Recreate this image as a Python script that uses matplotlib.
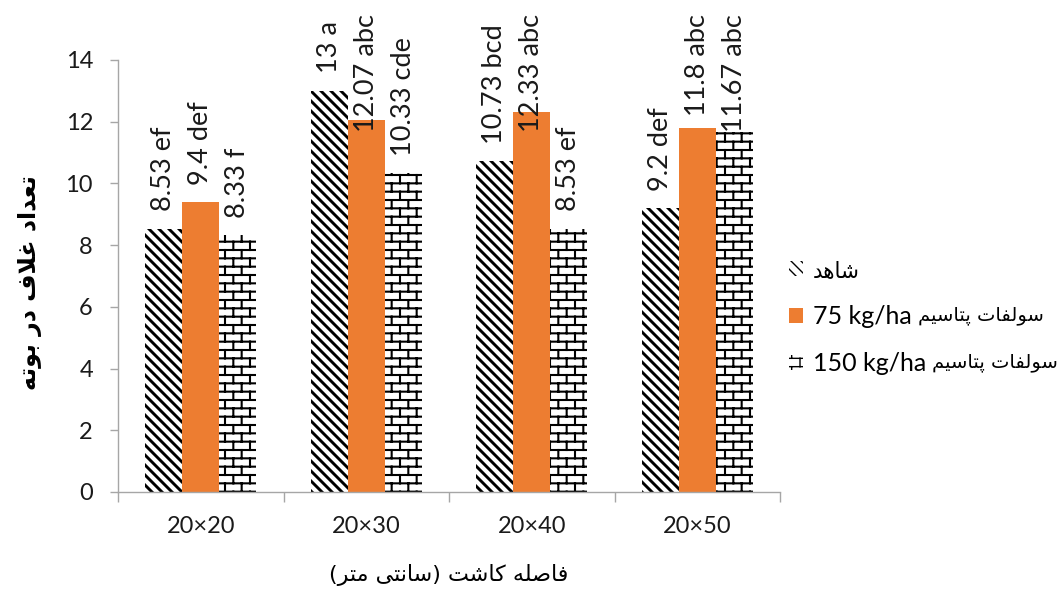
import warnings
import numpy as np
import matplotlib
matplotlib.use("Agg")
import matplotlib.pyplot as plt
from matplotlib import hatch as mhatch
from matplotlib.path import Path
from matplotlib.ticker import FixedLocator, NullFormatter

warnings.filterwarnings("ignore")

# ── Data ─────────────────────────────────────────────────────────────────────
categories = ["20×20", "20×30", "20×40", "20×50"]
control    = [8.53, 13.0, 10.73, 9.2]
k75        = [9.4, 12.07, 12.33, 11.8]
k150       = [8.33, 10.33, 8.53, 11.67]
lab_control = ["8.53 ef", "13 a", "10.73 bcd", "9.2 def"]
lab_k75     = ["9.4 def", "12.07 abc", "12.33 abc", "11.8 abc"]
lab_k150    = ["8.33 f", "10.33 cde", "8.53 ef", "11.67 abc"]
yticks = [0, 2, 4, 6, 8, 10, 12, 14]

series_names = ["شاهد", "سولفات پتاسیم", "سولفات پتاسیم"]
series_rates = ["", "75 kg/ha", "150 kg/ha"]
ylabel_fa = "تعداد غلاف در بوته"
xlabel_fa = "فاصله کاشت (سانتی متر)"

ORANGE = "#ED7D31"

# ── Minimal Persian shaping (presentation forms, visual order) ──────────────
FORMS = {  # isolated, final, initial, medial
    'ا': ('\uFE8D', '\uFE8E', None, None),
    'ب': ('\uFE8F', '\uFE90', '\uFE91', '\uFE92'),
    'پ': ('\uFB56', '\uFB57', '\uFB58', '\uFB59'),
    'ت': ('\uFE95', '\uFE96', '\uFE97', '\uFE98'),
    'د': ('\uFEA9', '\uFEAA', None, None),
    'ر': ('\uFEAD', '\uFEAE', None, None),
    'س': ('\uFEB1', '\uFEB2', '\uFEB3', '\uFEB4'),
    'ش': ('\uFEB5', '\uFEB6', '\uFEB7', '\uFEB8'),
    'ص': ('\uFEB9', '\uFEBA', '\uFEBB', '\uFEBC'),
    'ع': ('\uFEC9', '\uFECA', '\uFECB', '\uFECC'),
    'غ': ('\uFECD', '\uFECE', '\uFECF', '\uFED0'),
    'ف': ('\uFED1', '\uFED2', '\uFED3', '\uFED4'),
    'ک': ('\uFB8E', '\uFB8F', '\uFB90', '\uFB91'),
    'ل': ('\uFEDD', '\uFEDE', '\uFEDF', '\uFEE0'),
    'م': ('\uFEE1', '\uFEE2', '\uFEE3', '\uFEE4'),
    'ن': ('\uFEE5', '\uFEE6', '\uFEE7', '\uFEE8'),
    'ه': ('\uFEE9', '\uFEEA', '\uFEEB', '\uFEEC'),
    'و': ('\uFEED', '\uFEEE', None, None),
    'ی': ('\uFBFC', '\uFBFD', '\uFBFE', '\uFBFF'),
}


def dual(c):
    return c in FORMS and FORMS[c][2] is not None


def shape(s):
    s = s.replace('(', '\0').replace(')', '(').replace('\0', ')')
    out, i = [], 0
    while i < len(s):
        c = s[i]
        if c not in FORMS:
            out.append(c)
            i += 1
            continue
        prev_join = i > 0 and dual(s[i - 1])
        if c == 'ل' and i + 1 < len(s) and s[i + 1] == 'ا':
            out.append('\uFEFC' if prev_join else '\uFEFB')
            i += 2
            continue
        next_join = dual(c) and i + 1 < len(s) and s[i + 1] in FORMS
        iso, fin, ini, med = FORMS[c]
        if prev_join and next_join:
            out.append(med)
        elif prev_join:
            out.append(fin)
        elif next_join:
            out.append(ini)
        else:
            out.append(iso)
        i += 1
    return ''.join(reversed(out))


# ── Custom hatches: 'B' = brick, 'D' = wide back-diagonal ────────────────────
class BrickHatch(mhatch.HatchPatternBase):
    rows, cols = 12, 6

    def __init__(self, hatch, density):
        self.on = 'B' in hatch
        n_vert = sum(self.cols + 1 if r % 2 == 0 else self.cols for r in range(self.rows))
        self.num_vertices = ((self.rows + 1) * 2 + n_vert * 2) if self.on else 0

    def set_vertices_and_codes(self, vertices, codes):
        segs = []
        for r in range(self.rows + 1):
            y = r / self.rows
            segs.append(((0.0, y), (1.0, y)))
        for r in range(self.rows):
            y0, y1 = r / self.rows, (r + 1) / self.rows
            if r % 2 == 0:
                xs = [j / self.cols for j in range(self.cols + 1)]
            else:
                xs = [(j + 0.5) / self.cols for j in range(self.cols)]
            for xv in xs:
                segs.append(((xv, y0), (xv, y1)))
        vertices[:] = np.array(segs).reshape(-1, 2)
        codes[0::2] = Path.MOVETO
        codes[1::2] = Path.LINETO


class DiagHatch(mhatch.HatchPatternBase):
    m = 10

    def __init__(self, hatch, density):
        self.on = 'D' in hatch
        self.num_vertices = (2 * self.m + 1) * 2 if self.on else 0

    def set_vertices_and_codes(self, vertices, codes):
        c = np.arange(2 * self.m + 1) / self.m
        vertices[0::2, 0] = c
        vertices[0::2, 1] = 0.0
        vertices[1::2, 0] = c - 1.0
        vertices[1::2, 1] = 1.0
        codes[0::2] = Path.MOVETO
        codes[1::2] = Path.LINETO


mhatch._hatch_types.append(BrickHatch)
mhatch._hatch_types.append(DiagHatch)

# ── Plot ─────────────────────────────────────────────────────────────────────
plt.rcParams['font.family'] = ['Lato', 'DejaVu Sans']
fig = plt.figure(figsize=(10.64, 5.90), dpi=100)
ax = fig.add_axes([118 / 1064, 1 - 492 / 590, 662 / 1064, 432 / 590])

x = np.arange(len(categories))
w = 0.224
styles = [
    dict(values=control, labels=lab_control, off=-w, color='white', hatch='D', hlw=2.1),
    dict(values=k75, labels=lab_k75, off=0, color=ORANGE, hatch=None, hlw=1.0),
    dict(values=k150, labels=lab_k150, off=w, color='white', hatch='B', hlw=1.5),
]

handles = []
ann = []
for st in styles:
    with plt.rc_context({'hatch.linewidth': st['hlw'], 'hatch.color': 'black'}):
        bars = ax.bar(x + st['off'], st['values'], w, color=st['color'],
                      hatch=st['hatch'], linewidth=0, edgecolor='black')
    for b in bars:
        if hasattr(b, 'set_hatch_linewidth'):
            b.set_hatch_linewidth(st['hlw'])
    handles.append(bars)
    for xi, v, lab in zip(x + st['off'], st['values'], st['labels']):
        t = ax.annotate(lab, xy=(xi, v), xytext=(0, 12.5), textcoords='offset points',
                        rotation=90, ha='center', va='bottom', fontsize=19.5,
                        color='#1a1a1a', annotation_clip=False)
        ann.append(t)

ax.set_xlim(-0.5, 3.5)
ax.set_ylim(0, 14)
ax.set_yticks(yticks)
ax.set_xticks(x)
ax.set_xticklabels(categories)
ax.xaxis.set_minor_locator(FixedLocator(np.arange(-0.5, 4, 1.0)))
ax.xaxis.set_minor_formatter(NullFormatter())
ax.tick_params(axis='x', which='major', length=0, pad=17, labelsize=17, labelcolor='#1a1a1a')
ax.tick_params(axis='x', which='minor', length=7, width=1, color='#A6A6A6', direction='out')
ax.tick_params(axis='y', length=6, width=1, color='#A6A6A6', direction='out', pad=12,
               labelsize=17, labelcolor='#1a1a1a')
for s in ['top', 'right']:
    ax.spines[s].set_visible(False)
for s in ['left', 'bottom']:
    ax.spines[s].set_color('#A6A6A6')
    ax.spines[s].set_linewidth(1)

fig.text(30 / 1064, 1 - 283 / 590, shape(ylabel_fa), rotation=90, ha='center', va='center',
         fontsize=17, fontweight='bold', family=['DejaVu Sans'])
fig.text(449 / 1064, 1 - 575 / 590, shape(xlabel_fa), ha='center', va='center',
         fontsize=16, family=['DejaVu Sans'])

# legend: Latin rate in the entry, Persian part set right after it
leg_labels = [r if r else shape(n) for r, n in zip(series_rates, series_names)]
leg = fig.legend(handles, leg_labels, loc='center left',
                 bbox_to_anchor=(789 / 1064, 1 - 318 / 590),
                 frameon=False, fontsize=18, handlelength=0.55, handleheight=0.55,
                 handletextpad=0.4, labelspacing=0.95, borderpad=0, borderaxespad=0)
leg.get_texts()[0].set_fontsize(15.5)
leg.get_texts()[0].set_family(['DejaVu Sans'])

# keep tall labels inside the figure, as the original does
fig.canvas.draw()
H = fig.bbox.height
for t in ann:
    bb = t.get_window_extent()
    if bb.y1 > H - 14:
        dx, dy = t.xyann
        t.xyann = (dx, dy - (bb.y1 - (H - 14)) * 72 / fig.dpi)

fig.canvas.draw()
inv = fig.transFigure.inverted()
for txt, r, n in zip(leg.get_texts(), series_rates, series_names):
    if not r:
        continue
    bb = txt.get_window_extent()
    fx, fy = inv.transform((bb.x1 + 6, (bb.y0 + bb.y1) / 2 + 1))
    fig.text(fx, fy, shape(n), ha='left', va='center', fontsize=14,
             family=['DejaVu Sans'], color='black')

fig.savefig('out.png', dpi=100)
